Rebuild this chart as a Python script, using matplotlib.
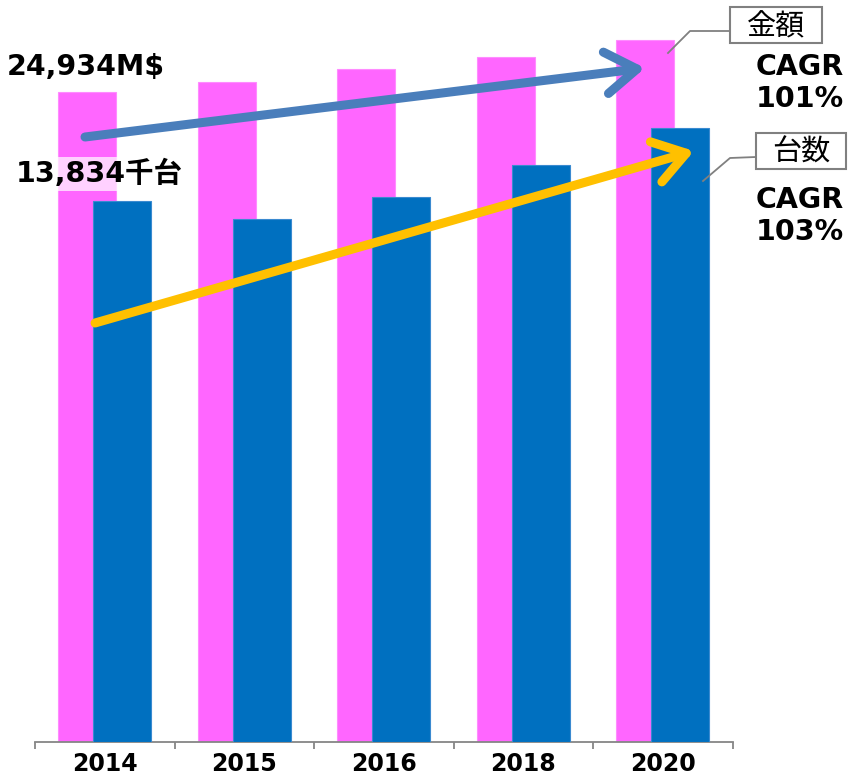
import matplotlib
matplotlib.use("Agg")
import matplotlib.pyplot as plt
from matplotlib.patches import Rectangle
import numpy as np

plt.rcParams['font.family'] = ['DejaVu Sans', 'Noto Sans CJK JP']

years = ["2014", "2015", "2016", "2018", "2020"]
amount_musd = [24934, 25330, 25805, 26265, 26910]   # 金額 (M$)
units_k = [13834, 13381, 13929, 14747, 15701]        # 台数 (千台)

PINK = "#FF66FF"
BLUE = "#0070C0"
ARROW_BLUE = "#4A7EBB"
ARROW_YELLOW = "#FFC000"
GRAY = "#808080"

W, H = 850, 780
fig = plt.figure(figsize=(W / 100, H / 100), dpi=100)

def fx(px):
    return px / W

def fy(py):
    return 1 - py / H

ax = fig.add_axes([fx(35), fy(742), fx(732.5) - fx(35), fy(0) - fy(742)])
ax2 = ax.twinx()

x = np.arange(len(years))
bw = 0.416
off = 0.125
ax.bar(x - off, amount_musd, width=bw, color=PINK, edgecolor="#FF8CFF", linewidth=0.8, zorder=2)
ax2.bar(x + off, units_k, width=bw, color=BLUE, edgecolor="#3A8AD0", linewidth=0.8, zorder=2)

ax.set_xlim(-0.5, len(years) - 0.5)
ax.set_ylim(0, 28460)
ax2.set_ylim(0, 18970)

for a in (ax, ax2):
    for s in ("top", "right", "left"):
        a.spines[s].set_visible(False)
    a.set_yticks([])
ax2.spines["bottom"].set_visible(False)
ax.spines["bottom"].set_color("#868686")
ax.spines["bottom"].set_linewidth(1.3)

ax.set_xticks(x)
ax.set_xticklabels(years, fontsize=17, fontweight="bold")
ax.tick_params(axis="x", which="major", length=0, pad=7)
ax.set_xticks(np.arange(-0.5, len(years)), minor=True)
ax.tick_params(axis="x", which="minor", length=5, width=1.3, color="#868686")

# Arrows (annotations)
def pix(px, py):
    return (px, H - py)

ax2.annotate("", xy=pix(645, 68), xytext=pix(85, 137), xycoords="figure pixels",
             textcoords="figure pixels", annotation_clip=False, zorder=5,
             arrowprops=dict(arrowstyle="->,head_length=0.75,head_width=0.5",
                             color=ARROW_BLUE, lw=6.5, mutation_scale=30,
                             shrinkA=0, shrinkB=0, capstyle="round"))
ax2.annotate("", xy=pix(694, 151), xytext=pix(95, 323), xycoords="figure pixels",
             textcoords="figure pixels", annotation_clip=False, zorder=5,
             arrowprops=dict(arrowstyle="->,head_length=0.75,head_width=0.5",
                             color=ARROW_YELLOW, lw=6.5, mutation_scale=30,
                             shrinkA=0, shrinkB=0, capstyle="round"))

# Start value labels
fig.text(fx(7), fy(67), "24,934M$", fontsize=20.5, fontweight="bold", ha="left", va="center")
fig.text(fx(16), fy(174), "13,834千台", fontsize=20.5, fontweight="bold", ha="left", va="center",
         bbox=dict(boxstyle="square,pad=0.1", facecolor="white", edgecolor="none", alpha=0.7))

# Series label boxes
def label_box(x0, y0, x1, y1, text):
    fig.add_artist(Rectangle((fx(x0), fy(y1)), fx(x1) - fx(x0), fy(y0) - fy(y1),
                             transform=fig.transFigure, facecolor="white",
                             edgecolor=GRAY, linewidth=1.5))
    fig.text(fx((x0 + x1) / 2), fy((y0 + y1) / 2 + 2), text, fontsize=21,
             ha="center", va="center")

label_box(730, 7, 822, 43, "金額")
label_box(756, 133, 846, 169, "台数")

# Leader lines
fig.add_artist(plt.Line2D([fx(668), fx(690), fx(730)], [fy(53), fy(31), fy(31)],
                          color=GRAY, lw=1.3))
fig.add_artist(plt.Line2D([fx(703), fx(730), fx(756)], [fy(181), fy(158), fy(157)],
                          color=GRAY, lw=1.3))

# CAGR labels
fig.text(fx(800), fy(83), "CAGR\n101%", fontsize=20.5, fontweight="bold", ha="center", va="center",
         linespacing=1.15)
fig.text(fx(800), fy(216), "CAGR\n103%", fontsize=20.5, fontweight="bold", ha="center", va="center",
         linespacing=1.15)

fig.savefig("out.png", dpi=100)
